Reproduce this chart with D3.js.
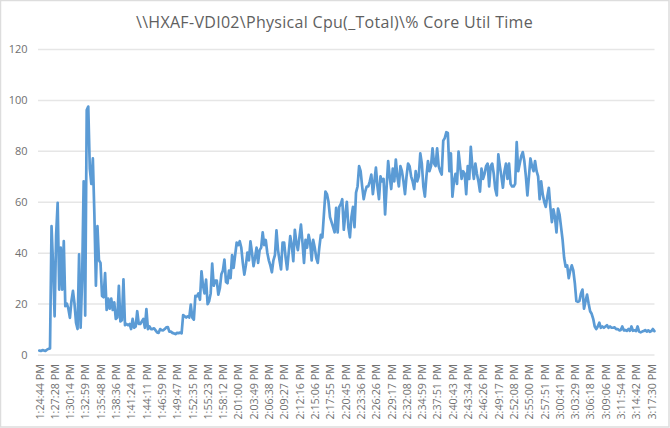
<!DOCTYPE html>
<html><head><meta charset="utf-8">
<script src="https://cdnjs.cloudflare.com/ajax/libs/d3/7.8.5/d3.min.js"></script>
<style>html,body{margin:0;padding:0;background:#fff}svg{display:block}</style>
</head><body><svg id="c" width="670" height="428"></svg>
<script>
const chartTitle = "\\\\HXAF-VDI02\\Physical Cpu(_Total)\\% Core Util Time";
const yTicks = [0,20,40,60,80,100,120];
const tickLabels = ["1:24:44 PM","1:27:28 PM","1:30:14 PM","1:32:59 PM","1:35:48 PM","1:38:36 PM","1:41:24 PM","1:44:11 PM","1:46:59 PM","1:49:47 PM","1:52:35 PM","1:55:23 PM","1:58:12 PM","2:01:00 PM","2:03:49 PM","2:06:38 PM","2:09:27 PM","2:12:16 PM","2:15:06 PM","2:17:55 PM","2:20:45 PM","2:23:36 PM","2:26:26 PM","2:29:17 PM","2:32:08 PM","2:34:59 PM","2:37:51 PM","2:40:43 PM","2:43:34 PM","2:46:26 PM","2:49:17 PM","2:52:08 PM","2:55:00 PM","2:57:51 PM","3:00:41 PM","3:03:29 PM","3:06:18 PM","3:09:06 PM","3:11:54 PM","3:14:42 PM","3:17:30 PM"];
const coreUtil = [
1.5,1.4,1.7,1.6,1.4,1.9,2.2,2.4,50.4,35,
15,47,59.6,25.5,42,25.5,44.5,19,20,18,
14.4,21,25,20,12.5,10,39.3,10.5,30,68,
15.3,96,97.4,73,67,77,55,27,50.4,37,
36,23,22.5,32,17.5,22,18,22,17.5,20.5,
14,14.5,27,13,13.5,29.5,11.5,12,11.5,12,
10,14,10.5,11,17,12,12,13,14,10.5,
17.8,10,11,10,10,10.3,9.5,8.7,8.5,10,
9.6,9.5,10,10.7,10.8,9,9,8.5,8.3,8,
8.5,8.4,8.6,8.3,15.5,15,14.5,15,14.5,19.6,
14.5,13.7,23,22.8,24,21.5,32.7,27,24,29.4,
19.8,21,24,35.7,27,29,29,23.5,26,31.5,
33,37.3,28.5,28,33,30,39,34,39,44,
43,44.5,42,36,31.4,35,40,37,44.4,40,
34.7,38,42,36,41,42,48,43,45,40,
37,35,32.3,37,39,48.8,41,37,33.4,44,
44,38,33.4,40,46.5,43,36.7,49,44,41,
46,51,44,36,45,42,47,44,37,45,
42,38,36,42,47,46,55,64,63,60,
54,52,50,48,57.6,48,58,59,61,49,
55,60,50,46,54,58,50,63.6,66,74,
72,66,61,64,66,66,68,70.7,63,68,
73.4,66,61,70,68,69,55,66,76,70,
65,73,68,76.6,70,66,74,72,68,63,
70,75,74,70,68,65,72,68,70,79,
75,66,62,70,76,72,74,81,75,74,
81,74,72,70.7,84,85,87.3,87,72,79,
62,68,71,67,79.7,74,69,72,71,63,
74,69,81.6,74,69,75,71,68,64,73,
69,71,74,75,66,74,75,71,65,62.5,
78.6,74,70,65.5,72,75,69,75,67,66,
66,67,83.4,72,75,78,79.5,76,70,62.5,
70,77,74,72,76,72,70,61,68,63,
60,58,62,65.5,58,52,57,54,48,57.3,
55,50,45,38,34.5,35,30,33,35,33,
28,21,20.7,21,24,25.5,18,21,23.5,20,
17,16,14,11,10,11,12.5,10.5,11,10.5,
11,11.5,10.5,11,10.5,10.5,10.7,10,10,9.5,
9.6,11,9.5,9.6,9.3,10,9.3,11,9.3,9.5,
9.2,11,9,8.7,9,9.2,9.6,9,9.5,8.9,
9.2,10,9.2];
const labelEvery = 10;

const svg = d3.select("#c");
const font = "'Open Sans', sans-serif";
svg.append("rect").attr("x",0.5).attr("y",0.5).attr("width",668.5).attr("height",426.5)
  .attr("fill","#fff").attr("stroke","#DDDDDD").attr("stroke-width",1.5);

const x = d3.scalePoint().domain(d3.range(coreUtil.length)).range([39.3,654.4]);
const y = d3.scaleLinear().domain([0,120]).range([354.5,49]);

const yAxis = d3.axisLeft(y).tickValues(yTicks).tickSize(-616.5).tickPadding(10.5);
const gy = svg.append("g").attr("transform","translate(38,0)").call(yAxis);
gy.select(".domain").remove();
gy.selectAll("line").attr("stroke","#E6E6E6").attr("stroke-width",1.5);
gy.selectAll("text").attr("fill","#707070").style("font-family",font).style("font-size","11px");

const xAxis = d3.axisBottom(x)
  .tickValues(d3.range(0,coreUtil.length,labelEvery))
  .tickFormat(i=>tickLabels[i/labelEvery]).tickSize(0);
const gx = svg.append("g").attr("transform","translate(0,354.5)").call(xAxis);
gx.select(".domain").remove();
gx.selectAll("text").attr("fill","#707070").style("font-family",font).style("font-size","10.8px")
  .attr("text-anchor","end").attr("transform","rotate(-90)").attr("x",-9.5).attr("y",0).attr("dy","0.35em");

const line = d3.line().x((d,i)=>x(i)).y(d=>y(d));
svg.append("path").datum(coreUtil).attr("d",line).attr("fill","none")
  .attr("stroke","#5B9BD5").attr("stroke-width",2.7).attr("stroke-linejoin","round").attr("stroke-linecap","round");

svg.append("text").attr("x",334.5).attr("y",28).attr("text-anchor","middle")
  .attr("fill","#5F5F5F").style("font-family",font).style("font-size","16px").style("letter-spacing","0.3px").text(chartTitle);
</script></body></html>
